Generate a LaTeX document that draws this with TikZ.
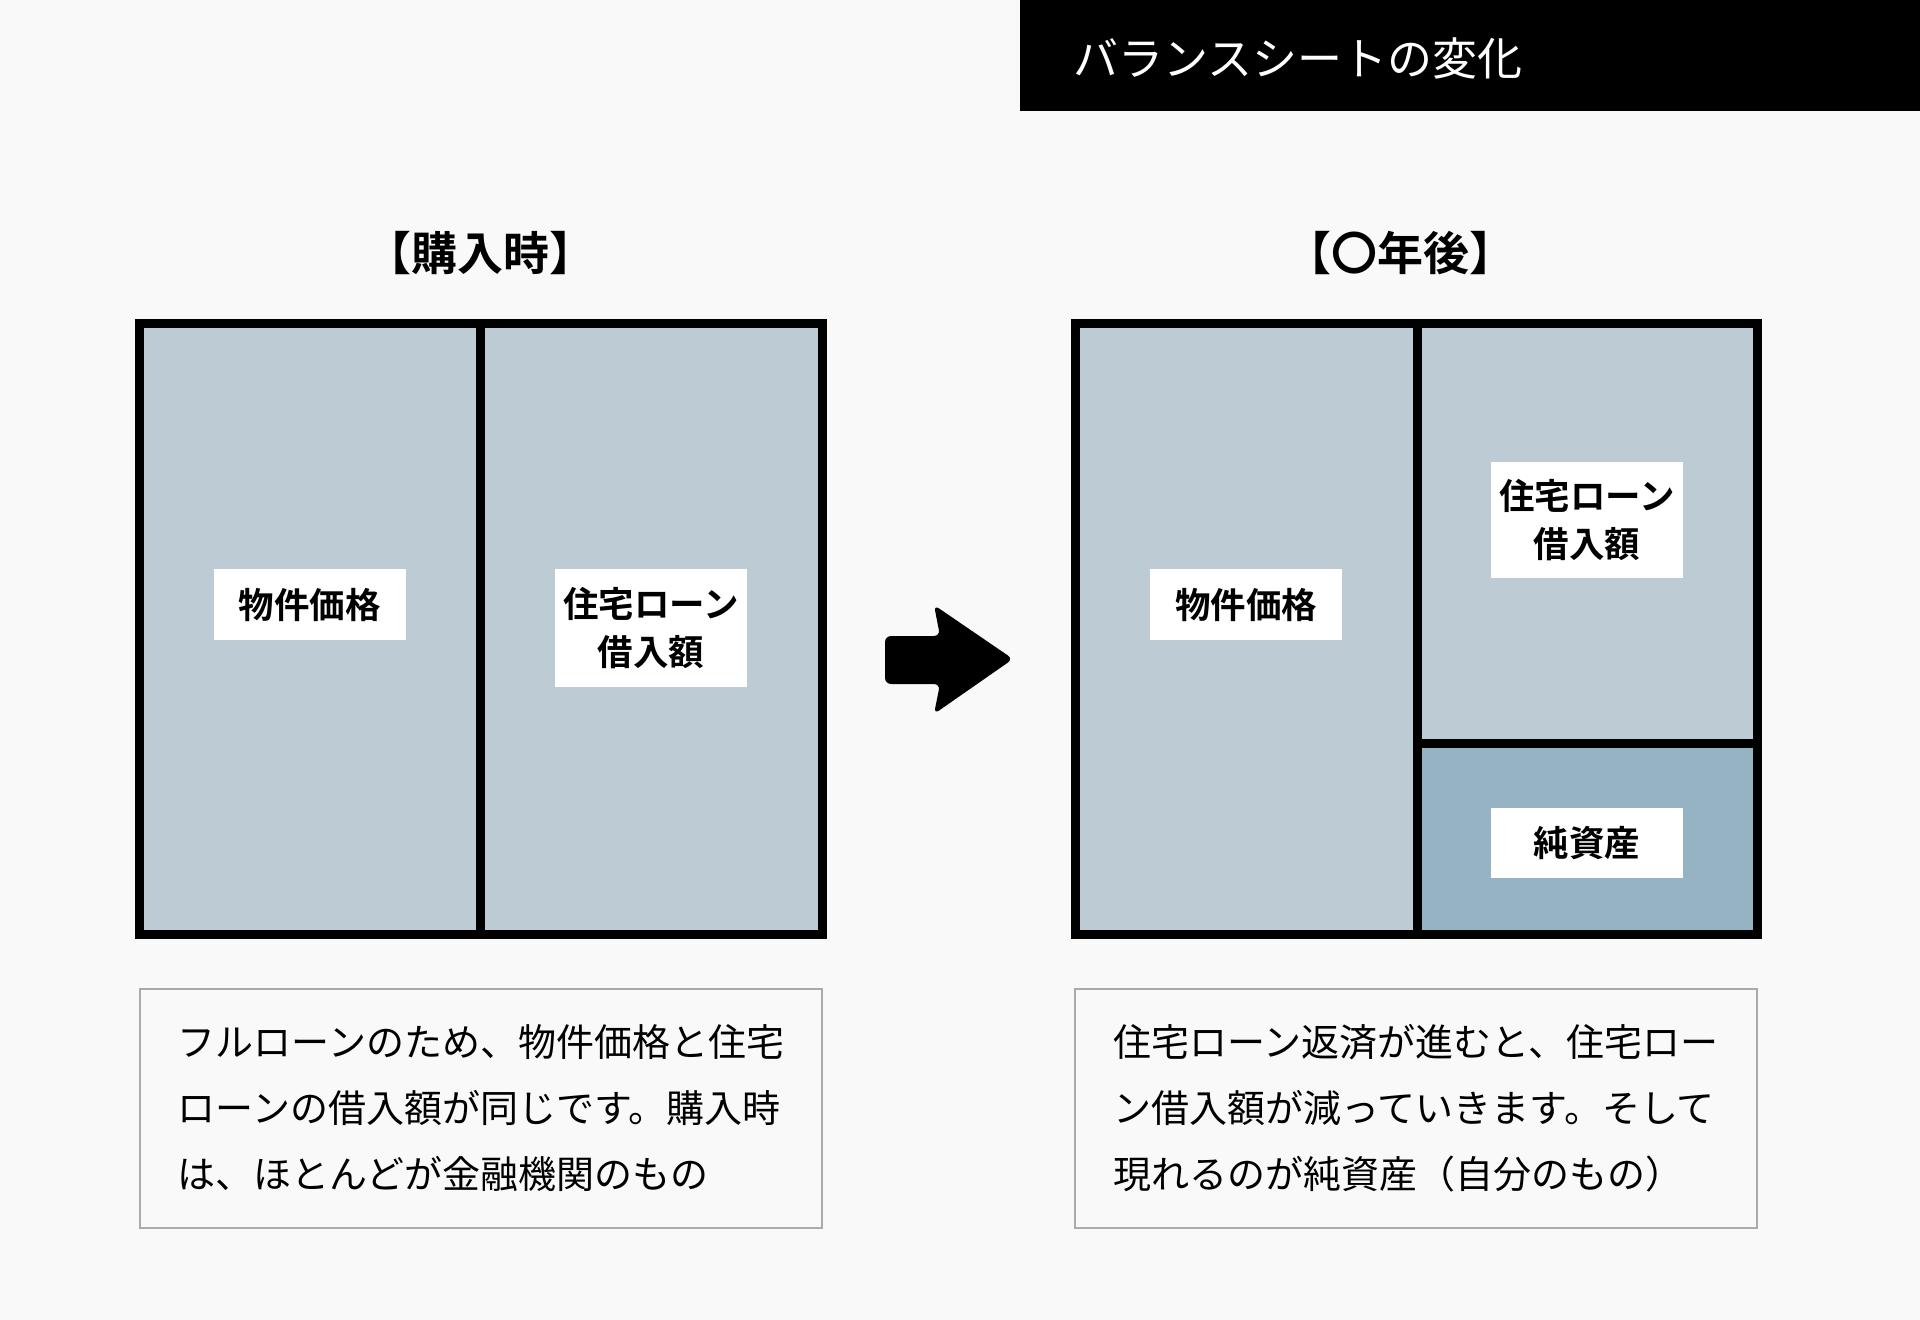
\documentclass[tikz,border=0pt]{standalone}
\usepackage{fontspec}
\newfontfamily\jp{Noto Sans CJK JP}[BoldFont={Noto Sans CJK JP Bold}]
\usetikzlibrary{calc}
\definecolor{paper}{RGB}{249,249,249}
\definecolor{loanblue}{RGB}{189,204,212}
\definecolor{equityblue}{RGB}{150,179,196}
\definecolor{framegray}{RGB}{170,170,170}
\tikzset{
  cell/.style={draw,rectangle,line width=4.5pt,fill=loanblue,inner sep=0pt},
  tag/.style={fill=white,rectangle,inner sep=0pt,minimum width=96pt,align=center,font={\jp\bfseries\fontsize{17.75pt}{24pt}\selectfont}},
  heading/.style={font={\jp\bfseries\fontsize{23pt}{27pt}\selectfont}},
  note/.style={draw=framegray,rectangle,line width=0.7pt,minimum width=341pt,minimum height=119.5pt,align=left,font={\jp\fontsize{19pt}{33pt}\selectfont}},
}
\begin{document}
\begin{tikzpicture}[x=0.5pt,y=-0.5pt]
\fill[paper] (0,0) rectangle (1920,1320);
\useasboundingbox (0,0) rectangle (1920,1320);

% title bar
\draw node [fill=black,rectangle,inner sep=0pt,minimum width=450pt,minimum height=55.5pt](titlebar) at (1470,55.5){};
\draw node [anchor=west,text=white,font={\jp\fontsize{22.5pt}{27pt}\selectfont}](title) at ($ (titlebar.west)+(47,3)$){バランスシートの変化};

% before
\draw node [heading](buyhead) at (480,253){【購入時】};
\draw node [cell,minimum width=170.5pt,minimum height=305pt](buyasset) at (309.5,629){};
\draw node [cell,minimum width=171pt,minimum height=305pt](buyloan) at (651,629){};
\draw node [tag,minimum height=35.5pt](buyassettag) at ($ (buyasset)+(0,-24.5)$){物件価格};
\draw node [tag,minimum height=59pt](buyloantag) at ($ (buyloan)+(0,-1)$){住宅ローン\\借入額};

% arrow
\fill[rounded corners=3pt] (885,636) -- (940,636) -- (934,605) -- (1013,659) -- (934,714) -- (940,684) -- (885,684) -- cycle;

% after
\draw node [heading](nowhead) at (1400,253){【〇年後】};
\draw node [cell,minimum width=171pt,minimum height=305pt](nowasset) at (1246,629){};
\draw node [cell,minimum width=170pt,minimum height=209.5pt](nowloan) at (1587,533.5){};
\draw node [cell,fill=equityblue,minimum width=170pt,minimum height=95.5pt](nowequity) at (1587,838.5){};
\draw node [tag,minimum height=35.5pt](nowassettag) at ($ (nowasset)+(0,-24.5)$){物件価格};
\draw node [tag,minimum height=58pt](nowloantag) at ($ (nowloan)+(0,-13.5)$){住宅ローン\\借入額};
\draw node [tag,minimum height=35pt](nowequitytag) at ($ (nowequity)+(0,4.5)$){純資産};

% notes
\draw node [note](buynote) at (481,1108.5){フルローンのため、物件価格と住宅\\ローンの借入額が同じです。購入時\\は、ほとんどが金融機関のもの};
\draw node [note](nownote) at (1416,1108.5){住宅ローン返済が進むと、住宅ロー\\ン借入額が減っていきます。そして\\現れるのが純資産（自分のもの）};

\end{tikzpicture}
\end{document}
